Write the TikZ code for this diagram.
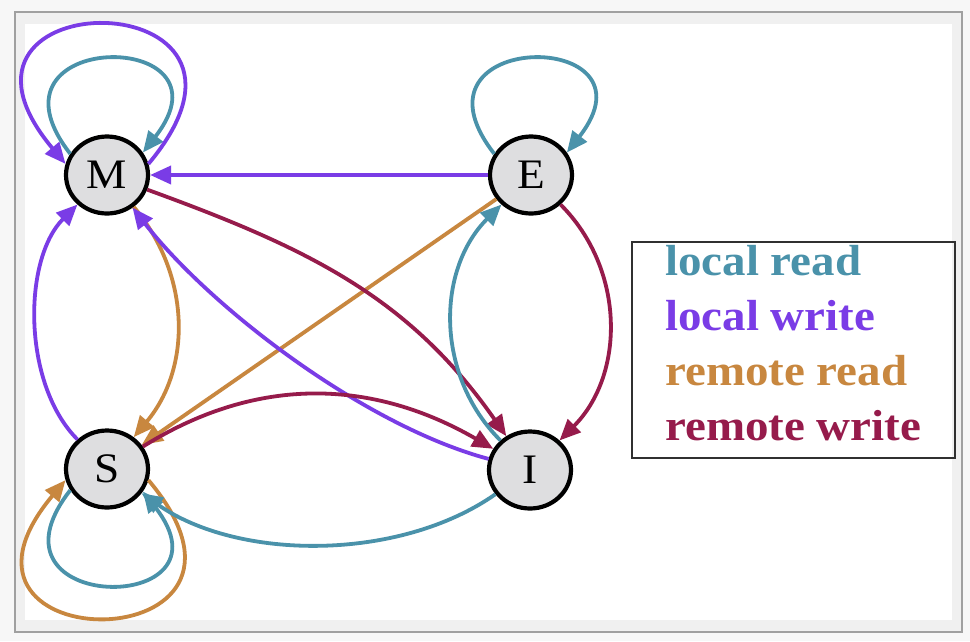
\documentclass[tikz,border=0pt]{standalone}
\usepackage{fontspec}
\setmainfont{Liberation Serif}
\usetikzlibrary{arrows.meta,shapes.geometric}
\definecolor{lread}{HTML}{4A92AA}
\definecolor{lwrite}{HTML}{7A3CE6}
\definecolor{rread}{HTML}{C8873F}
\definecolor{rwrite}{HTML}{961B4B}
\definecolor{nodefill}{HTML}{DEDEE0}
\definecolor{bgout}{HTML}{F7F7F7}
\definecolor{band}{HTML}{F0F0F0}
\definecolor{framegray}{HTML}{A0A0A0}
\definecolor{legendline}{HTML}{303030}
\begin{document}
\begin{tikzpicture}[x=1pt,y=1pt,
  state/.style={ellipse,draw=black,line width=4.2pt,fill=nodefill,minimum width=82pt,minimum height=77pt,inner sep=0pt,font=\fontsize{42}{42}\selectfont},
  edge/.style={line width=3.8pt,-{Triangle[length=21pt,width=18pt]}},
  legtext/.style={anchor=base west,inner sep=0pt,font=\fontsize{43.5}{43.5}\selectfont\bfseries}
]
\useasboundingbox (0,-641) rectangle (970,0);
\fill[bgout] (0,-641) rectangle (970,0);
\draw[framegray,line width=2.4pt,fill=band] (15,-12) rectangle (962,-632);
\fill[white] (25,-24) rectangle (952,-620);

\node[state] (M) at (107,-175) {\scalebox{1.08}[1]{M}};
\node[state] (E) at (531,-175) {\scalebox{1.08}[1]{E}};
\node[state] (S) at (107,-469) {\scalebox{1.08}[1]{S}};
\node[state] (I) at (530,-470) {\scalebox{1.08}[1]{I}};

% self loops
\draw[edge,lread] (M.150) to[out=128,in=52,distance=159] (M.32);
\draw[edge,lwrite] (M.15) to[out=50,in=130,distance=242] (M.165);
\draw[edge,lread] (E.150) to[out=128,in=52,distance=159] (E.32);
\draw[edge,lread] (S.210) to[out=232,in=308,distance=159] (S.328);
\draw[edge,rread] (S.345) to[out=310,in=230,distance=239] (S.195);

% transitions
\draw[edge,lwrite] (E) -- (M);
\draw[edge,rread] (E) -- (S);
\draw[edge,rread] (M) to[out=-50,in=50] (S);
\draw[edge,lwrite] (S) to[out=135,in=225,looseness=0.85] (M);
\draw[edge,lwrite] (I) to[out=165,in=-52,looseness=0.75] (M);
\draw[edge,rwrite] (M) to[out=-20,in=125] (I);
\draw[edge,rwrite] (S) to[out=32,in=150] (I);
\draw[edge,rwrite] (E) to[out=-45,in=45] (I);
\draw[edge,lread] (I) to[out=135,in=225] (E);
\draw[edge,lread] (I) to[out=215,in=-35,looseness=0.85] (S);

% legend
\node[draw=legendline,line width=2.4pt,minimum width=323pt,minimum height=216pt,inner sep=0pt] (L) at (793.5,-350) {};
\node[legtext,text=lread] (t1) at (665,-275) {\scalebox{1.08}[1]{local read}};
\node[legtext,text=lwrite] (t2) at (665,-330) {\scalebox{1.08}[1]{local write}};
\node[legtext,text=rread] (t3) at (665,-385) {\scalebox{1.08}[1]{remote read}};
\node[legtext,text=rwrite] (t4) at (665,-440) {\scalebox{1.08}[1]{remote write}};
\end{tikzpicture}
\end{document}
